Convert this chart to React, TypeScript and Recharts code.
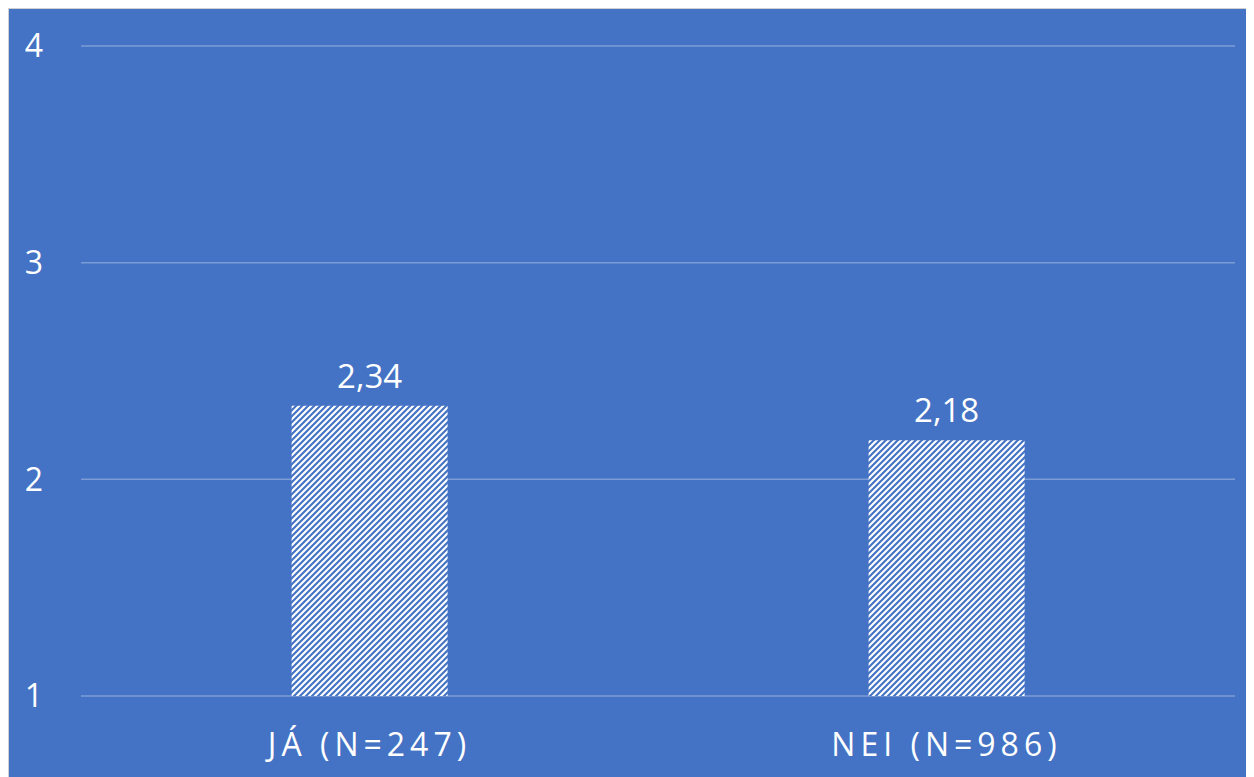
import React from "react";
import { BarChart, Bar, XAxis, YAxis, CartesianGrid, LabelList } from "recharts";

const categories = ["JÁ (N=247)", "NEI (N=986)"];
const values = [2.34, 2.18];
const yTicks = [1, 2, 3, 4];

const data = categories.map((c, i) => ({ name: c, value: values[i] }));

const BG = "#4472C4";
const FONT = "'Open Sans', 'Liberation Sans', sans-serif";

export default function App() {
  return (
    <div
      style={{
        width: 1244,
        height: 772,
        background: BG,
        border: "1px solid #d0d0d0",
        fontFamily: FONT,
      }}
    >
      <style>{`body{overflow:hidden}`}</style>
      <BarChart
        width={1244}
        height={772}
        data={data}
        margin={{ top: 37, right: 18, bottom: 0, left: 0 }}
        barCategoryGap="36.5%"
      >
        <defs>
          <pattern id="hatch" patternUnits="userSpaceOnUse" width="6" height="6">
            <rect width="6" height="6" fill="#ffffff" />
            <path d="M-1,1 l2,-2 M0,6 l6,-6 M5,7 l2,-2" stroke={BG} strokeWidth="2.1" />
          </pattern>
        </defs>
        <CartesianGrid vertical={false} stroke="rgba(255,255,255,0.3)" strokeWidth={1.5} />
        <XAxis
          dataKey="name"
          axisLine={false}
          tickLine={false}
          height={85}
          tickMargin={31}
          tick={{ fill: "#ffffff", fontSize: 32, letterSpacing: 5, fontFamily: FONT }}
        />
        <YAxis
          domain={[1, 4]}
          ticks={yTicks}
          axisLine={false}
          tickLine={false}
          width={72}
          tickMargin={32}
          tick={{ fill: "#ffffff", fontSize: 32, fontFamily: FONT }}
        />
        <Bar dataKey="value" fill="url(#hatch)" isAnimationActive={false}>
          <LabelList
            dataKey="value"
            position="top"
            offset={18}
            formatter={(v: number) => v.toFixed(2).replace(".", ",")}
            style={{ fill: "#ffffff", fontSize: 33, fontFamily: FONT }}
          />
        </Bar>
      </BarChart>
    </div>
  );
}
